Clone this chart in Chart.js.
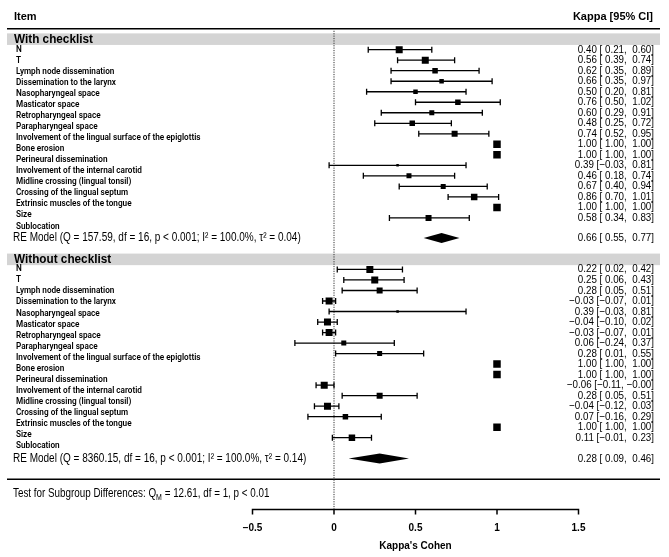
<!DOCTYPE html>
<html>
<head>
<meta charset="utf-8">
<script src="https://cdn.jsdelivr.net/npm/chart.js@4.4.1/dist/chart.umd.min.js"></script>
<style>
  body { margin: 0; background: #fff; }
  #wrap { width: 669px; height: 557px; }
</style>
</head>
<body>
<div id="wrap"><canvas id="forest" width="669" height="557"></canvas></div>
<script>
// Items (same list for both subgroups)
const itemLabels = [
    'N', 'T', 'Lymph node dissemination', 'Dissemination to the larynx',
    'Nasopharyngeal space', 'Masticator space', 'Retropharyngeal space',
    'Parapharyngeal space', 'Involvement of the lingual surface of the epiglottis',
    'Bone erosion', 'Perineural dissemination', 'Involvement of the internal carotid',
    'Midline crossing (lingual tonsil)', 'Crossing of the lingual septum',
    'Extrinsic muscles of the tongue', 'Size', 'Sublocation'
];

// With checklist
const withEst = [0.40, 0.56, 0.62, 0.66, 0.50, 0.76, 0.60, 0.48, 0.74, 1.00, 1.00, 0.39, 0.46, 0.67, 0.86, 1.00, 0.58];
const withLow = [0.21, 0.39, 0.35, 0.35, 0.20, 0.50, 0.29, 0.25, 0.52, 1.00, 1.00, -0.03, 0.18, 0.40, 0.70, 1.00, 0.34];
const withHigh = [0.60, 0.74, 0.89, 0.97, 0.81, 1.02, 0.91, 0.72, 0.95, 1.00, 1.00, 0.81, 0.74, 0.94, 1.01, 1.00, 0.83];
const withWeight = [7, 7, 5.5, 4.5, 4.5, 5.5, 5, 5.5, 6, 7.5, 7.5, 2.5, 5, 5, 6.5, 7.5, 6];
const withModel = [0.66, 0.55, 0.77];
const withModelText = 'RE Model (Q = 157.59, df = 16, p < 0.001; I\u00b2 = 100.0%, \u03c4\u00b2 = 0.04)';

// Without checklist
const withoutEst = [0.22, 0.25, 0.28, -0.03, 0.39, -0.04, -0.03, 0.06, 0.28, 1.00, 1.00, -0.06, 0.28, -0.04, 0.07, 1.00, 0.11];
const withoutLow = [0.02, 0.06, 0.05, -0.07, -0.03, -0.10, -0.07, -0.24, 0.01, 1.00, 1.00, -0.11, 0.05, -0.12, -0.16, 1.00, -0.01];
const withoutHigh = [0.42, 0.43, 0.51, 0.01, 0.81, 0.02, 0.01, 0.37, 0.55, 1.00, 1.00, -0.00, 0.51, 0.03, 0.29, 1.00, 0.23];
const withoutWeight = [7, 7, 6, 7, 2.5, 7, 7, 5, 5, 7.5, 7.5, 7, 6, 7, 5.5, 7.5, 6.5];
const withoutModel = [0.28, 0.09, 0.46];
const withoutModelText = 'RE Model (Q = 8360.15, df = 16, p < 0.001; I\u00b2 = 100.0%, \u03c4\u00b2 = 0.14)';

// Axis
const tickValues = [-0.5, 0, 0.5, 1, 1.5];
const tickLabels = ['\u22120.5', '0', '0.5', '1', '1.5'];

// row layout (in row units)
const withStart = 1, withoutStart = 21.9;
const withLabelStart = 0.98, withoutLabelStart = 21.88, labelStep = 1.052;

const SANS = '"Liberation Sans", Arial, sans-serif';
const LABEL_FONT = '600 8.2px Roboto, sans-serif';

function fmt(v) {
    const neg = v < 0 || Object.is(v, -0);
    return (neg ? '\u2212' : ' ') + Math.abs(v).toFixed(2);
}
function ciText(e, l, h) {
    return fmt(e).trim() + ' [' + fmt(l) + ', ' + fmt(h) + ']';
}

function text(ctx, str, x, y, font, align, squeeze) {
    ctx.save();
    ctx.font = font;
    ctx.textBaseline = 'middle';
    ctx.textAlign = align || 'left';
    ctx.translate(x, y);
    ctx.scale(squeeze || 1, 1);
    ctx.fillText(str, 0, 0);
    ctx.restore();
}

function points(est, weight, start) {
    return est.map((v, i) => ({ x: v, y: start + i, r: weight[i] / Math.SQRT2 }));
}

const forestPlugin = {
    id: 'forest',
    beforeDatasetsDraw(chart) {
        const ctx = chart.ctx;
        const xs = chart.scales.x, ys = chart.scales.y;
        ctx.save();
        ctx.fillStyle = '#000';
        ctx.strokeStyle = '#000';

        // header line + section bands
        ctx.lineWidth = 1.5;
        ctx.beginPath();
        ctx.moveTo(7, ys.getPixelForValue(-0.98));
        ctx.lineTo(660, ys.getPixelForValue(-0.98));
        ctx.moveTo(7, ys.getPixelForValue(41.84));
        ctx.lineTo(660, ys.getPixelForValue(41.84));
        ctx.stroke();
        ctx.fillStyle = '#d4d4d4';
        [0, 20.94].forEach(c => {
            const t = ys.getPixelForValue(c - 0.55), b = ys.getPixelForValue(c + 0.55);
            ctx.fillRect(7, t, 653, b - t);
        });

        // reference line at 0
        ctx.strokeStyle = '#333';
        ctx.lineWidth = 1;
        ctx.setLineDash([1.2, 1.2]);
        ctx.beginPath();
        ctx.moveTo(xs.getPixelForValue(0), ys.getPixelForValue(-0.8));
        ctx.lineTo(xs.getPixelForValue(0), ys.getPixelForValue(44.73));
        ctx.stroke();
        ctx.setLineDash([]);

        // confidence intervals
        ctx.strokeStyle = '#000';
        ctx.lineWidth = 1.3;
        const cap = 3;
        const ci = (lo, hi, start) => lo.forEach((l, i) => {
            const h = hi[i];
            if (h - l < 0.005) return;
            const y = ys.getPixelForValue(start + i);
            const x1 = xs.getPixelForValue(l), x2 = xs.getPixelForValue(h);
            ctx.beginPath();
            ctx.moveTo(x1, y); ctx.lineTo(x2, y);
            ctx.moveTo(x1, y - cap); ctx.lineTo(x1, y + cap);
            ctx.moveTo(x2, y - cap); ctx.lineTo(x2, y + cap);
            ctx.stroke();
        });
        ci(withLow, withHigh, withStart);
        ci(withoutLow, withoutHigh, withoutStart);

        // summary diamonds
        ctx.fillStyle = '#000';
        const diamond = (m, row) => {
            const y = ys.getPixelForValue(row), hh = 5;
            ctx.beginPath();
            ctx.moveTo(xs.getPixelForValue(m[1]), y);
            ctx.lineTo(xs.getPixelForValue(m[0]), y - hh);
            ctx.lineTo(xs.getPixelForValue(m[2]), y);
            ctx.lineTo(xs.getPixelForValue(m[0]), y + hh);
            ctx.closePath();
            ctx.fill();
        };
        diamond(withModel, 18.9);
        diamond(withoutModel, 39.88);
        ctx.restore();
    },
    afterDraw(chart) {
        const ctx = chart.ctx;
        const xs = chart.scales.x, ys = chart.scales.y;
        const py = v => ys.getPixelForValue(v);
        ctx.save();
        ctx.fillStyle = '#000';

        // headers
        text(ctx, 'Item', 14, py(-2.1), 'bold 11px ' + SANS);
        text(ctx, 'Kappa [95% CI]', 653, py(-2.1), 'bold 11px ' + SANS, 'right');
        text(ctx, 'With checklist', 14, py(0), 'bold 12.5px ' + SANS, 'left', 0.94);
        text(ctx, 'Without checklist', 14, py(20.94), 'bold 12.5px ' + SANS, 'left', 0.94);

        // item labels
        itemLabels.forEach((lab, i) => {
            text(ctx, lab, 16, py(withLabelStart + labelStep * i), LABEL_FONT);
            text(ctx, lab, 16, py(withoutLabelStart + labelStep * i), LABEL_FONT);
        });

        // estimates text
        const VAL_FONT = '11px ' + SANS;
        withEst.forEach((e, i) => text(ctx, ciText(e, withLow[i], withHigh[i]), 654, py(withStart + i), VAL_FONT, 'right', 0.89));
        withoutEst.forEach((e, i) => text(ctx, ciText(e, withoutLow[i], withoutHigh[i]), 654, py(withoutStart + i), VAL_FONT, 'right', 0.89));

        // model rows
        text(ctx, withModelText, 13, py(18.9), '12.5px ' + SANS, 'left', 0.8);
        text(ctx, withoutModelText, 13, py(39.88), '12.5px ' + SANS, 'left', 0.8);
        text(ctx, ciText(...withModel), 654, py(18.9), VAL_FONT, 'right', 0.89);
        text(ctx, ciText(...withoutModel), 654, py(39.88), VAL_FONT, 'right', 0.89);

        // subgroup test
        const ty = py(43.24);
        ctx.save();
        ctx.translate(13, ty);
        ctx.scale(0.82, 1);
        ctx.textBaseline = 'middle';
        ctx.font = '12px ' + SANS;
        const s1 = 'Test for Subgroup Differences: Q';
        ctx.fillText(s1, 0, 0);
        let w = ctx.measureText(s1).width;
        ctx.font = '8.5px ' + SANS;
        ctx.fillText('M', w, 3.5);
        w += ctx.measureText('M').width;
        ctx.font = '12px ' + SANS;
        ctx.fillText(' = 12.61, df = 1, p < 0.01', w, 0);
        ctx.restore();

        // x axis
        const ay = py(44.73);
        ctx.strokeStyle = '#000';
        ctx.lineWidth = 1.5;
        ctx.beginPath();
        ctx.moveTo(xs.getPixelForValue(tickValues[0]), ay);
        ctx.lineTo(xs.getPixelForValue(tickValues[tickValues.length - 1]), ay);
        tickValues.forEach(v => {
            const x = xs.getPixelForValue(v);
            ctx.moveTo(x, ay - 0.7);
            ctx.lineTo(x, ay + 5);
        });
        ctx.stroke();
        tickValues.forEach((v, i) => text(ctx, tickLabels[i], xs.getPixelForValue(v), py(46.5), 'bold 10px ' + SANS, 'center'));
        text(ctx, "Kappa's Cohen", xs.getPixelForValue(0.5), py(48.2), 'bold 10px ' + SANS, 'center');
        ctx.restore();
    }
};

const config = {
    type: 'scatter',
    data: {
        datasets: [
            {
                label: 'With checklist',
                data: points(withEst, withWeight, withStart),
                pointRadius: ctx => ctx.raw.r,
                pointStyle: 'rect',
                backgroundColor: '#000',
                borderWidth: 0,
            },
            {
                label: 'Without checklist',
                data: points(withoutEst, withoutWeight, withoutStart),
                pointRadius: ctx => ctx.raw.r,
                pointStyle: 'rect',
                backgroundColor: '#000',
                borderWidth: 0,
            },
        ],
    },
    options: {
        responsive: false,
        devicePixelRatio: 1,
        animation: false,
        layout: { padding: { left: 252.5, right: 90.5, top: 0, bottom: 0 } },
        scales: {
            x: { type: 'linear', min: -0.5, max: 1.5, display: false },
            y: { type: 'linear', min: -3.22, max: 48.74, reverse: true, display: false },
        },
        plugins: {
            legend: { display: false },
            tooltip: { enabled: false },
        },
    },
    plugins: [forestPlugin],
};

const myChart = new Chart(document.getElementById('forest').getContext('2d'), config);
</script>
</body>
</html>
